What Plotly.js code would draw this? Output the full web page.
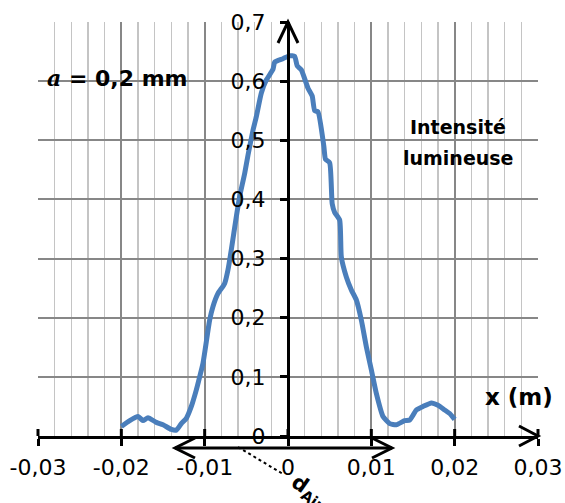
<!DOCTYPE html>
<html>
<head>
<meta charset="utf-8">
<script src="https://cdn.plot.ly/plotly-3.0.1.min.js"></script>
<style>html,body{margin:0;padding:0;background:#fff;}#chart{width:565px;height:503px;}</style>
</head>
<body>
<div id="chart"></div>
<script>
// Position x (m)
const xPos = [-0.0200,-0.0190,-0.0180,-0.0174,-0.0168,-0.0158,-0.0150,-0.0140,-0.0134,-0.0128,-0.0122,-0.0116,-0.0110,-0.0106,-0.0102,-0.0094,-0.0090,-0.0084,-0.0076,-0.0072,-0.0068,-0.0062,-0.0058,-0.0052,-0.0048,-0.0042,-0.0038,-0.0032,-0.0026,-0.0018,-0.0016,-0.0006,0.0002,0.0008,0.0011,0.0016,0.0024,0.0029,0.0032,0.0036,0.0043,0.0045,0.0050,0.0053,0.0056,0.0062,0.0064,0.0070,0.0076,0.0082,0.0088,0.0094,0.0100,0.0106,0.0114,0.0122,0.0130,0.0140,0.0146,0.0154,0.0162,0.0172,0.0180,0.0188,0.0194,0.0200];
// Intensité lumineuse
const intensite = [0.016,0.026,0.033,0.026,0.031,0.023,0.019,0.011,0.010,0.021,0.030,0.050,0.078,0.100,0.123,0.196,0.219,0.241,0.258,0.281,0.315,0.371,0.405,0.444,0.475,0.517,0.540,0.580,0.602,0.620,0.632,0.638,0.643,0.642,0.626,0.619,0.588,0.575,0.550,0.548,0.490,0.468,0.462,0.393,0.378,0.365,0.303,0.269,0.247,0.230,0.196,0.151,0.112,0.072,0.033,0.021,0.019,0.026,0.027,0.044,0.050,0.056,0.052,0.044,0.038,0.028];

const xTickVals = [-0.03,-0.02,-0.01,0,0.01,0.02,0.03];
const xTickText = ['-0,03','-0,02','-0,01','0','0,01','0,02','0,03'];
const yTickVals = [0,0.1,0.2,0.3,0.4,0.5,0.6,0.7];
const yTickText = ['0','0,1','0,2','0,3','0,4','0,5','0,6','0,7'];

const X_MIN = -0.03, X_MAX = 0.03;
const PW = 500, PH = 414; // plot area size in px
const toPaperX = v => (v - X_MIN) / (X_MAX - X_MIN);

const shapes = [];
// upper half of x tick marks (lower half drawn by axis ticks)
xTickVals.forEach(v => {
  shapes.push({type:'line', xref:'paper', yref:'paper', x0:toPaperX(v), x1:toPaperX(v), y0:0, y1:7/PH, line:{color:'#000', width:3}});
});
// x axis arrow head
shapes.push({type:'path', xref:'paper', yref:'paper', path:`M ${1-19/PW},${10/PH} L 1,0 L ${1-19/PW},${-10/PH}`, line:{color:'#000', width:3}});
// y axis arrow head
shapes.push({type:'path', xref:'paper', yref:'paper', path:`M ${0.5-10/PW},${1-21/PH} L 0.5,1 L ${0.5+10/PW},${1-21/PH}`, line:{color:'#000', width:3}});
// d_Airy double arrow
const dy = -12/PH, ax0 = (175-38)/PW, ax1 = (392-38)/PW;
shapes.push({type:'line', xref:'paper', yref:'paper', x0:ax0, x1:ax1, y0:dy, y1:dy, line:{color:'#000', width:3}});
shapes.push({type:'path', xref:'paper', yref:'paper', path:`M ${ax0+20/PW},${dy+10/PH} L ${ax0},${dy} L ${ax0+20/PW},${dy-10/PH}`, line:{color:'#000', width:3}});
shapes.push({type:'path', xref:'paper', yref:'paper', path:`M ${ax1-20/PW},${dy+10/PH} L ${ax1},${dy} L ${ax1-20/PW},${dy-10/PH}`, line:{color:'#000', width:3}});
// dotted leader
shapes.push({type:'line', xref:'paper', yref:'paper', x0:(238-38)/PW, y0:(436-447)/PH, x1:(283-38)/PW, y1:(436-474)/PH, line:{color:'#000', width:2, dash:'dot'}});

const trace = {
  x: xPos, y: intensite, type:'scatter', mode:'lines',
  line:{color:'#4a7ebb', width:5, shape:'spline', smoothing:0.5},
  hoverinfo:'skip', showlegend:false
};

const layout = {
  width:565, height:503,
  margin:{l:38, r:27, t:22, b:67, pad:0},
  paper_bgcolor:'#fff', plot_bgcolor:'#fff',
  font:{family:'DejaVu Sans', color:'#000'},
  xaxis:{
    range:[X_MIN, X_MAX], tickmode:'array', tickvals:xTickVals, ticktext:xTickText,
    showgrid:true, gridcolor:'#878787', gridwidth:2,
    minor:{tickmode:'linear', tick0:0, dtick:0.002, showgrid:true, gridcolor:'#c4c4c4', gridwidth:1.5, ticks:''},
    showline:true, linecolor:'#000', linewidth:3,
    ticks:'outside', ticklen:7, tickwidth:3, tickcolor:'#000',
    zeroline:false, tickfont:{family:'DejaVu Sans', size:22, color:'#000'},
    ticklabelstandoff:3, fixedrange:true
  },
  yaxis:{
    range:[0, 0.7], tickmode:'array', tickvals:yTickVals, ticktext:yTickText,
    anchor:'free', position:0.5,
    showgrid:true, gridcolor:'#878787', gridwidth:2,
    showline:true, linecolor:'#000', linewidth:3,
    ticks:'outside', ticklen:7, tickwidth:3, tickcolor:'#000',
    zeroline:false, tickfont:{family:'DejaVu Sans', size:22, color:'#000'},
    ticklabelstandoff:10, fixedrange:true
  },
  shapes: shapes,
  annotations:[
    {xref:'paper', yref:'paper', x:(45-38)/PW, y:(436-78)/PH, xanchor:'left', yanchor:'middle', showarrow:false,
     text:'<b><span style="font-family:\'DejaVu Serif\';font-style:italic">a</span> = 0,2 mm</b>', font:{family:'DejaVu Sans', size:22, color:'#000'}},
    {xref:'paper', yref:'paper', x:(458-38)/PW, y:(436-127)/PH, xanchor:'center', yanchor:'middle', showarrow:false,
     text:'<b>Intensité</b>', font:{family:'DejaVu Sans', size:19, color:'#000'}},
    {xref:'paper', yref:'paper', x:(458-38)/PW, y:(436-158)/PH, xanchor:'center', yanchor:'middle', showarrow:false,
     text:'<b>lumineuse</b>', font:{family:'DejaVu Sans', size:19, color:'#000'}},
    {xref:'paper', yref:'paper', x:(519-38)/PW, y:(436-397)/PH, xanchor:'center', yanchor:'middle', showarrow:false,
     text:'<b>x (m)</b>', font:{family:'DejaVu Sans', size:23, color:'#000'}},
    {xref:'paper', yref:'paper', x:(313-38)/PW, y:(436-494)/PH, xanchor:'center', yanchor:'middle', showarrow:false,
     textangle:35, text:'<b>d<sub>Airy</sub></b>', font:{family:'DejaVu Sans', size:21, color:'#000'}}
  ]
};

Plotly.newPlot('chart', [trace], layout, {displayModeBar:false, staticPlot:true});
</script>
</body>
</html>
